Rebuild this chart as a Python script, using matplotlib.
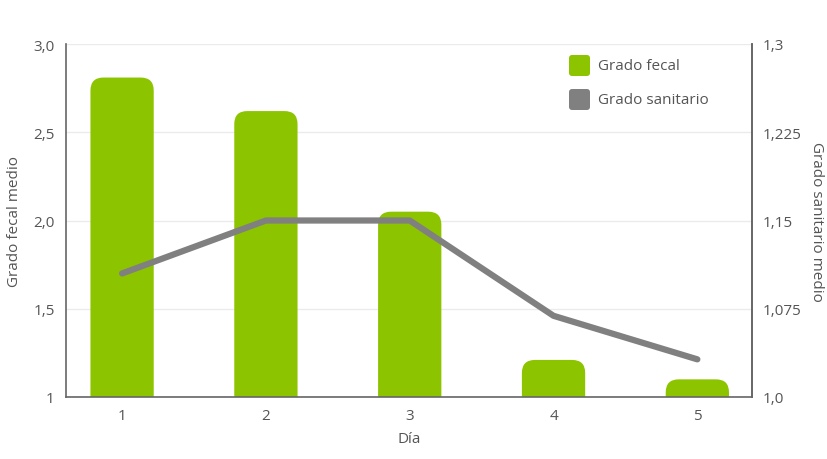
import matplotlib
matplotlib.use("Agg")
import matplotlib.pyplot as plt
from matplotlib.patches import FancyBboxPatch
from matplotlib.ticker import FixedLocator

plt.rcParams["font.family"] = ["Open Sans", "DejaVu Sans"]

days = ["1", "2", "3", "4", "5"]
grado_fecal = [2.81, 2.62, 2.05, 1.21, 1.10]
grado_sanitario = [1.105, 1.15, 1.15, 1.069, 1.032]
left_ticks = [1.0, 1.5, 2.0, 2.5, 3.0]
left_labels = ["1", "1,5", "2,0", "2,5", "3,0"]
right_ticks = [1.0, 1.075, 1.15, 1.225, 1.3]
right_labels = ["1,0", "1,075", "1,15", "1,225", "1,3"]
series_names = ["Grado fecal", "Grado sanitario"]

GREEN = "#8dc400"
GREY = "#808080"
TEXT = "#555555"
AXIS = "#666666"

W, H = 828, 460
fig = plt.figure(figsize=(W / 100, H / 100), dpi=100)
ax_l, ax_r, ax_b, ax_t = 66, 752, 398, 45
ax = fig.add_axes([ax_l / W, 1 - ax_b / H, (ax_r - ax_l) / W, (ax_b - ax_t) / H])

x = list(range(len(days)))
xlim = (-0.39, 4.38)
ylim = (1.0, 3.0)
ax.set_xlim(*xlim)
ax.set_ylim(*ylim)

# rounded bars, rounding radius in pixels converted to data units
px_x = (ax_r - ax_l) / (xlim[1] - xlim[0])
px_y = (ax_b - ax_t) / (ylim[1] - ylim[0])
rad_px = 13
bw = 0.44
for xi, v in zip(x, grado_fecal):
    p = FancyBboxPatch((xi - bw / 2, 0.5), bw, v - 0.5,
                       boxstyle=f"round,pad=0,rounding_size={rad_px / px_x}",
                       mutation_aspect=px_x / px_y,
                       facecolor=GREEN, edgecolor="none", zorder=2)
    ax.add_patch(p)

ax.yaxis.set_major_locator(FixedLocator(left_ticks))
ax.set_yticklabels(left_labels)
ax.set_xticks(x)
ax.set_xticklabels(days)
ax.grid(axis="y", color="#ebebeb", linewidth=1, zorder=0)
ax.set_axisbelow(True)
ax.tick_params(length=0, labelsize=11, colors=TEXT, pad=8)
ax.set_xlabel("Día", fontsize=11, color=TEXT, labelpad=6)
ax.set_ylabel("Grado fecal medio", fontsize=11, color=TEXT, labelpad=8)

ax.spines["top"].set_visible(False)
for s in ["left", "bottom", "right"]:
    ax.spines[s].set_color(AXIS)
    ax.spines[s].set_linewidth(1.2)

ax2 = ax.twinx()
ax2.set_ylim(1.0, 1.3)
ax2.plot(x, grado_sanitario, color=GREY, linewidth=4.5,
         solid_capstyle="round", solid_joinstyle="round", zorder=3)
ax2.yaxis.set_major_locator(FixedLocator(right_ticks))
ax2.set_yticklabels(right_labels)
ax2.tick_params(length=0, labelsize=11, colors=TEXT, pad=8)
ax2.set_ylabel("Grado sanitario medio", fontsize=11, color=TEXT,
               rotation=270, labelpad=16)
for s in ["top", "left", "bottom"]:
    ax2.spines[s].set_visible(False)
ax2.spines["right"].set_color(AXIS)
ax2.spines["right"].set_linewidth(1.2)

# legend drawn by hand: rounded squares + labels (pixel positions)
for i, (name, col) in enumerate(zip(series_names, [GREEN, GREY])):
    top = 56 + i * 34
    sq = FancyBboxPatch((569 / W, 1 - (top + 21) / H), 21 / W, 21 / H,
                        boxstyle=f"round,pad=0,rounding_size={3 / W}",
                        mutation_aspect=W / H,
                        transform=fig.transFigure, facecolor=col,
                        edgecolor="none")
    fig.patches.append(sq)
    fig.text(598 / W, 1 - (top + 11) / H, name, fontsize=11, color=TEXT,
             va="center", ha="left")

fig.savefig("out.png", dpi=100, facecolor="white")
